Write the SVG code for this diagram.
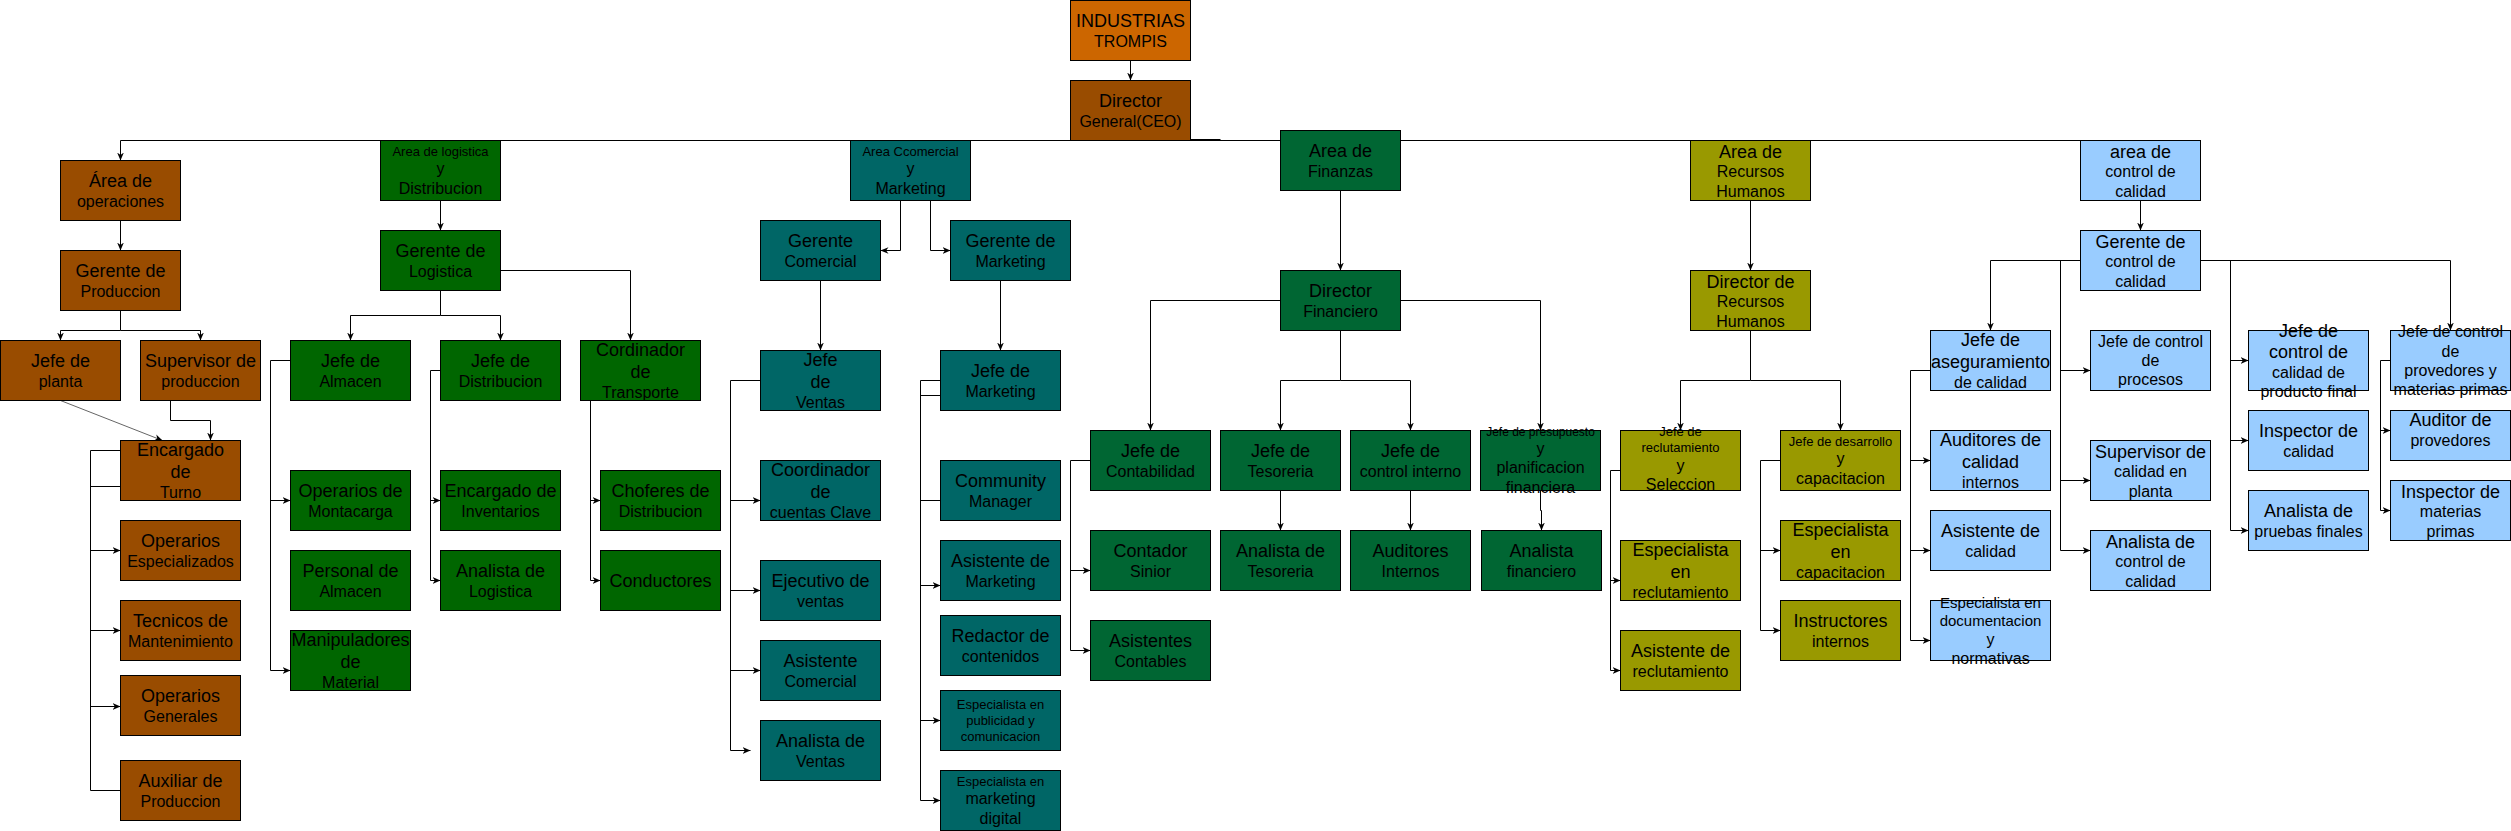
<svg xmlns="http://www.w3.org/2000/svg" width="2511" height="831" viewBox="0 0 2511 831">
<style>
rect{stroke:#000;stroke-width:1}
.or{fill:#CC6600}.br{fill:#994C00}.lg{fill:#006600}.cm{fill:#006666}.fn{fill:#006633}.hr{fill:#999900}.qc{fill:#99CCFF}
text{font-family:"Liberation Sans",Arial,Helvetica,sans-serif;text-anchor:middle;fill:#000}
.a{font-size:18px}.b{font-size:16px}.c{font-size:13px}.d{font-size:12px}.e{font-size:15px}
#connectors path{fill:none;stroke:#000;stroke-width:1}
#connectors path.m{marker-end:url(#arr)}
</style>
<defs>
<marker id="arr" viewBox="0 0 10 10" refX="10" refY="5" markerWidth="8" markerHeight="8" markerUnits="userSpaceOnUse" orient="auto"><path d="M0,0.8 L10,5 L0,9.2 L3,5 Z" fill="#000"/></marker>
</defs>
<rect x="-1" y="-1" width="2513" height="833" style="fill:#fff;stroke:none"/>
<g transform="translate(0.5,0.5)">
<g id="connectors">
<path class="m" d="M1130,60 V80"/>
<path d="M1130,140 H2080"/>
<path class="m" d="M1130,140 H120 V160"/>
<path d="M1170,139.5 H1220" style="stroke-width:2"/>
<path class="m" d="M120,220 V250"/>
<path class="m" d="M120,310 V330 H60 V340"/>
<path class="m" d="M120,330 H200 V340"/>
<path class="m" d="M60,400 L162,440" style="stroke:#666"/>
<path class="m" d="M170,400 V420 H210 V440"/>
<path d="M120,450 H90 V790 H120"/>
<path d="M90,486 H120"/>
<path class="m" d="M90,550 H120"/>
<path class="m" d="M90,630 H120"/>
<path class="m" d="M90,706 H120"/>
<path class="m" d="M440,200 V230"/>
<path class="m" d="M440,290 V315 H350 V340"/>
<path class="m" d="M440,315 H500 V340"/>
<path class="m" d="M500,270 H630 V340"/>
<path class="m" d="M290,360 H270 V670 H290"/>
<path class="m" d="M270,500 H290"/>
<path class="m" d="M440,370 H430 V580 H440"/>
<path class="m" d="M430,500 H440"/>
<path class="m" d="M590,400 V580 H600"/>
<path class="m" d="M590,500 H600"/>
<path class="m" d="M900,200 V250 H880"/>
<path class="m" d="M930,200 V250 H950"/>
<path class="m" d="M820,280 V350"/>
<path class="m" d="M760,380 H730 V750 H750"/>
<path class="m" d="M730,500 H760"/>
<path class="m" d="M730,590 H760"/>
<path class="m" d="M730,670 H760"/>
<path class="m" d="M1000,280 V350"/>
<path class="m" d="M940,380 H920 V800 H940"/>
<path d="M920,395 H940"/>
<path d="M920,500 H940"/>
<path class="m" d="M920,585 H940"/>
<path class="m" d="M920,720 H940"/>
<path class="m" d="M1340,190 V270"/>
<path class="m" d="M1280,300 H1150 V430"/>
<path class="m" d="M1340,330 V380 H1280 V430"/>
<path class="m" d="M1340,380 H1410 V430"/>
<path class="m" d="M1400,300 H1540 V430"/>
<path class="m" d="M1090,460 H1070 V650 H1090"/>
<path class="m" d="M1070,570 H1090"/>
<path class="m" d="M1280,490 V530"/>
<path class="m" d="M1410,490 V530"/>
<path class="m" d="M1540,490 V510 H1541 V530"/>
<path class="m" d="M1750,200 V270"/>
<path class="m" d="M1750,330 V380 H1680 V430"/>
<path class="m" d="M1750,380 H1840 V430"/>
<path class="m" d="M1620,470 H1610 V670 H1620"/>
<path class="m" d="M1610,580 H1620"/>
<path class="m" d="M1780,460 H1760 V630 H1780"/>
<path class="m" d="M1760,550 H1780"/>
<path class="m" d="M2140,200 V230"/>
<path class="m" d="M2080,260 H1990 V330"/>
<path class="m" d="M2060,260 V550 H2090"/>
<path class="m" d="M2060,370 H2090"/>
<path class="m" d="M2060,480 H2090"/>
<path class="m" d="M2200,260 H2450 V330"/>
<path class="m" d="M2230,260 V530 H2248"/>
<path class="m" d="M2230,360 H2248"/>
<path class="m" d="M2230,440 H2248"/>
<path class="m" d="M1930,370 H1910 V640 H1930"/>
<path class="m" d="M1910,460 H1930"/>
<path class="m" d="M1910,550 H1930"/>
<path class="m" d="M2390,360 H2380 V510 H2390"/>
<path class="m" d="M2380,430 H2390"/>
</g>

<g id="n-industrias"><rect class="or" x="1070" y="0" width="120" height="60"/><text><tspan class="a" x="1130" y="26.7">INDUSTRIAS</tspan><tspan class="b" x="1130" y="46.4">TROMPIS</tspan></text></g>
<g id="n-ceo"><rect class="br" x="1070" y="80" width="120" height="60"/><text><tspan class="a" x="1130" y="106.7">Director</tspan><tspan class="b" x="1130" y="126.4">General(CEO)</tspan></text></g>

<g id="n-area-operaciones"><rect class="br" x="60" y="160" width="120" height="60"/><text><tspan class="a" x="120" y="186.7">Área de</tspan><tspan class="b" x="120" y="206.4">operaciones</tspan></text></g>
<g id="n-gerente-produccion"><rect class="br" x="60" y="250" width="120" height="60"/><text><tspan class="a" x="120" y="276.7">Gerente de</tspan><tspan class="b" x="120" y="296.4">Produccion</tspan></text></g>
<g id="n-jefe-planta"><rect class="br" x="0" y="340" width="120" height="60"/><text><tspan class="a" x="60" y="366.7">Jefe de</tspan><tspan class="b" x="60" y="386.4">planta</tspan></text></g>
<g id="n-supervisor-produccion"><rect class="br" x="140" y="340" width="120" height="60"/><text><tspan class="a" x="200" y="366.7">Supervisor de</tspan><tspan class="b" x="200" y="386.4">produccion</tspan></text></g>
<g id="n-encargado-turno"><rect class="br" x="120" y="440" width="120" height="60"/><text><tspan class="a" x="180" y="455.9">Encargado</tspan><tspan class="a" x="180" y="477.5">de</tspan><tspan class="b" x="180" y="497.2">Turno</tspan></text></g>
<g id="n-operarios-especializados"><rect class="br" x="120" y="520" width="120" height="60"/><text><tspan class="a" x="180" y="546.7">Operarios</tspan><tspan class="b" x="180" y="566.4">Especializados</tspan></text></g>
<g id="n-tecnicos"><rect class="br" x="120" y="600" width="120" height="60"/><text><tspan class="a" x="180" y="626.7">Tecnicos de</tspan><tspan class="b" x="180" y="646.4">Mantenimiento</tspan></text></g>
<g id="n-operarios-generales"><rect class="br" x="120" y="675" width="120" height="60"/><text><tspan class="a" x="180" y="701.7">Operarios</tspan><tspan class="b" x="180" y="721.4">Generales</tspan></text></g>
<g id="n-auxiliar"><rect class="br" x="120" y="760" width="120" height="60"/><text><tspan class="a" x="180" y="786.7">Auxiliar de</tspan><tspan class="b" x="180" y="806.4">Produccion</tspan></text></g>

<g id="n-area-logistica"><rect class="lg" x="380" y="140" width="120" height="60"/><text><tspan class="c" x="440" y="155.3">Area de logistica</tspan><tspan class="b" x="440" y="173.8">y</tspan><tspan class="b" x="440" y="193">Distribucion</tspan></text></g>
<g id="n-gerente-logistica"><rect class="lg" x="380" y="230" width="120" height="60"/><text><tspan class="a" x="440" y="256.7">Gerente de</tspan><tspan class="b" x="440" y="276.4">Logistica</tspan></text></g>
<g id="n-jefe-almacen"><rect class="lg" x="290" y="340" width="120" height="60"/><text><tspan class="a" x="350" y="366.7">Jefe de</tspan><tspan class="b" x="350" y="386.4">Almacen</tspan></text></g>
<g id="n-jefe-distribucion"><rect class="lg" x="440" y="340" width="120" height="60"/><text><tspan class="a" x="500" y="366.7">Jefe de</tspan><tspan class="b" x="500" y="386.4">Distribucion</tspan></text></g>
<g id="n-cordinador-transporte"><rect class="lg" x="580" y="340" width="120" height="60"/><text><tspan class="a" x="640" y="355.9">Cordinador</tspan><tspan class="a" x="640" y="377.5">de</tspan><tspan class="b" x="640" y="397.2">Transporte</tspan></text></g>
<g id="n-montacarga"><rect class="lg" x="290" y="470" width="120" height="60"/><text><tspan class="a" x="350" y="496.7">Operarios de</tspan><tspan class="b" x="350" y="516.4">Montacarga</tspan></text></g>
<g id="n-personal-almacen"><rect class="lg" x="290" y="550" width="120" height="60"/><text><tspan class="a" x="350" y="576.7">Personal de</tspan><tspan class="b" x="350" y="596.4">Almacen</tspan></text></g>
<g id="n-manipuladores"><rect class="lg" x="290" y="630" width="120" height="60"/><text><tspan class="a" x="350" y="645.9">Manipuladores</tspan><tspan class="a" x="350" y="667.5">de</tspan><tspan class="b" x="350" y="687.2">Material</tspan></text></g>
<g id="n-encargado-inventarios"><rect class="lg" x="440" y="470" width="120" height="60"/><text><tspan class="a" x="500" y="496.7">Encargado de</tspan><tspan class="b" x="500" y="516.4">Inventarios</tspan></text></g>
<g id="n-analista-logistica"><rect class="lg" x="440" y="550" width="120" height="60"/><text><tspan class="a" x="500" y="576.7">Analista de</tspan><tspan class="b" x="500" y="596.4">Logistica</tspan></text></g>
<g id="n-choferes"><rect class="lg" x="600" y="470" width="120" height="60"/><text><tspan class="a" x="660" y="496.7">Choferes de</tspan><tspan class="b" x="660" y="516.4">Distribucion</tspan></text></g>
<g id="n-conductores"><rect class="lg" x="600" y="550" width="120" height="60"/><text><tspan class="a" x="660" y="586.3">Conductores</tspan></text></g>

<g id="n-area-comercial"><rect class="cm" x="850" y="140" width="120" height="60"/><text><tspan class="c" x="910" y="155.3">Area Ccomercial</tspan><tspan class="b" x="910" y="173.8">y</tspan><tspan class="b" x="910" y="193">Marketing</tspan></text></g>
<g id="n-gerente-comercial"><rect class="cm" x="760" y="220" width="120" height="60"/><text><tspan class="a" x="820" y="246.7">Gerente</tspan><tspan class="b" x="820" y="266.4">Comercial</tspan></text></g>
<g id="n-gerente-marketing"><rect class="cm" x="950" y="220" width="120" height="60"/><text><tspan class="a" x="1010" y="246.7">Gerente de</tspan><tspan class="b" x="1010" y="266.4">Marketing</tspan></text></g>
<g id="n-jefe-ventas"><rect class="cm" x="760" y="350" width="120" height="60"/><text><tspan class="a" x="820" y="365.9">Jefe</tspan><tspan class="a" x="820" y="387.5">de</tspan><tspan class="b" x="820" y="407.2">Ventas</tspan></text></g>
<g id="n-coordinador-cuentas"><rect class="cm" x="760" y="460" width="120" height="60"/><text><tspan class="a" x="820" y="475.9">Coordinador</tspan><tspan class="a" x="820" y="497.5">de</tspan><tspan class="b" x="820" y="517.2">cuentas Clave</tspan></text></g>
<g id="n-ejecutivo-ventas"><rect class="cm" x="760" y="560" width="120" height="60"/><text><tspan class="a" x="820" y="586.7">Ejecutivo de</tspan><tspan class="b" x="820" y="606.4">ventas</tspan></text></g>
<g id="n-asistente-comercial"><rect class="cm" x="760" y="640" width="120" height="60"/><text><tspan class="a" x="820" y="666.7">Asistente</tspan><tspan class="b" x="820" y="686.4">Comercial</tspan></text></g>
<g id="n-analista-ventas"><rect class="cm" x="760" y="720" width="120" height="60"/><text><tspan class="a" x="820" y="746.7">Analista de</tspan><tspan class="b" x="820" y="766.4">Ventas</tspan></text></g>
<g id="n-jefe-marketing"><rect class="cm" x="940" y="350" width="120" height="60"/><text><tspan class="a" x="1000" y="376.7">Jefe de</tspan><tspan class="b" x="1000" y="396.4">Marketing</tspan></text></g>
<g id="n-community"><rect class="cm" x="940" y="460" width="120" height="60"/><text><tspan class="a" x="1000" y="486.7">Community</tspan><tspan class="b" x="1000" y="506.4">Manager</tspan></text></g>
<g id="n-asistente-marketing"><rect class="cm" x="940" y="540" width="120" height="60"/><text><tspan class="a" x="1000" y="566.7">Asistente de</tspan><tspan class="b" x="1000" y="586.4">Marketing</tspan></text></g>
<g id="n-redactor"><rect class="cm" x="940" y="615" width="120" height="60"/><text><tspan class="a" x="1000" y="641.7">Redactor de</tspan><tspan class="b" x="1000" y="661.4">contenidos</tspan></text></g>
<g id="n-especialista-publicidad"><rect class="cm" x="940" y="690" width="120" height="60"/><text><tspan class="c" x="1000" y="708.9">Especialista en</tspan><tspan class="c" x="1000" y="724.5">publicidad y</tspan><tspan class="c" x="1000" y="740.1">comunicacion</tspan></text></g>
<g id="n-especialista-digital"><rect class="cm" x="940" y="770" width="120" height="60"/><text><tspan class="c" x="1000" y="785.3">Especialista en</tspan><tspan class="b" x="1000" y="803.8">marketing</tspan><tspan class="b" x="1000" y="823">digital</tspan></text></g>

<g id="n-area-finanzas"><rect class="fn" x="1280" y="130" width="120" height="60"/><text><tspan class="a" x="1340" y="156.7">Area de</tspan><tspan class="b" x="1340" y="176.4">Finanzas</tspan></text></g>
<g id="n-director-financiero"><rect class="fn" x="1280" y="270" width="120" height="60"/><text><tspan class="a" x="1340" y="296.7">Director</tspan><tspan class="b" x="1340" y="316.4">Financiero</tspan></text></g>
<g id="n-jefe-contabilidad"><rect class="fn" x="1090" y="430" width="120" height="60"/><text><tspan class="a" x="1150" y="456.7">Jefe de</tspan><tspan class="b" x="1150" y="476.4">Contabilidad</tspan></text></g>
<g id="n-jefe-tesoreria"><rect class="fn" x="1220" y="430" width="120" height="60"/><text><tspan class="a" x="1280" y="456.7">Jefe de</tspan><tspan class="b" x="1280" y="476.4">Tesoreria</tspan></text></g>
<g id="n-jefe-control-interno"><rect class="fn" x="1350" y="430" width="120" height="60"/><text><tspan class="a" x="1410" y="456.7">Jefe de</tspan><tspan class="b" x="1410" y="476.4">control interno</tspan></text></g>
<g id="n-jefe-presupuesto"><rect class="fn" x="1480" y="430" width="120" height="60"/><text><tspan class="d" x="1540" y="435.4">Jefe de presupuesto</tspan><tspan class="b" x="1540" y="453.6">y</tspan><tspan class="b" x="1540" y="472.8">planificacion</tspan><tspan class="b" x="1540" y="492">financiera</tspan></text></g>
<g id="n-contador-sinior"><rect class="fn" x="1090" y="530" width="120" height="60"/><text><tspan class="a" x="1150" y="556.7">Contador</tspan><tspan class="b" x="1150" y="576.4">Sinior</tspan></text></g>
<g id="n-asistentes-contables"><rect class="fn" x="1090" y="620" width="120" height="60"/><text><tspan class="a" x="1150" y="646.7">Asistentes</tspan><tspan class="b" x="1150" y="666.4">Contables</tspan></text></g>
<g id="n-analista-tesoreria"><rect class="fn" x="1220" y="530" width="120" height="60"/><text><tspan class="a" x="1280" y="556.7">Analista de</tspan><tspan class="b" x="1280" y="576.4">Tesoreria</tspan></text></g>
<g id="n-auditores-internos"><rect class="fn" x="1350" y="530" width="120" height="60"/><text><tspan class="a" x="1410" y="556.7">Auditores</tspan><tspan class="b" x="1410" y="576.4">Internos</tspan></text></g>
<g id="n-analista-financiero"><rect class="fn" x="1481" y="530" width="120" height="60"/><text><tspan class="a" x="1541" y="556.7">Analista</tspan><tspan class="b" x="1541" y="576.4">financiero</tspan></text></g>

<g id="n-area-rrhh"><rect class="hr" x="1690" y="140" width="120" height="60"/><text><tspan class="a" x="1750" y="157.1">Area de</tspan><tspan class="b" x="1750" y="176.8">Recursos</tspan><tspan class="b" x="1750" y="196">Humanos</tspan></text></g>
<g id="n-director-rrhh"><rect class="hr" x="1690" y="270" width="120" height="60"/><text><tspan class="a" x="1750" y="287.1">Director de</tspan><tspan class="b" x="1750" y="306.8">Recursos</tspan><tspan class="b" x="1750" y="326">Humanos</tspan></text></g>
<g id="n-jefe-reclutamiento"><rect class="hr" x="1620" y="430" width="120" height="60"/><text><tspan class="c" x="1680" y="435">Jefe de</tspan><tspan class="c" x="1680" y="451">reclutamiento</tspan><tspan class="b" x="1680" y="470.5">y</tspan><tspan class="b" x="1680" y="489">Seleccion</tspan></text></g>
<g id="n-jefe-desarrollo"><rect class="hr" x="1780" y="430" width="120" height="60"/><text><tspan class="c" x="1840" y="445.3">Jefe de desarrollo</tspan><tspan class="b" x="1840" y="463.8">y</tspan><tspan class="b" x="1840" y="483">capacitacion</tspan></text></g>
<g id="n-especialista-reclutamiento"><rect class="hr" x="1620" y="540" width="120" height="60"/><text><tspan class="a" x="1680" y="555.9">Especialista</tspan><tspan class="a" x="1680" y="577.5">en</tspan><tspan class="b" x="1680" y="597.2">reclutamiento</tspan></text></g>
<g id="n-asistente-reclutamiento"><rect class="hr" x="1620" y="630" width="120" height="60"/><text><tspan class="a" x="1680" y="656.7">Asistente de</tspan><tspan class="b" x="1680" y="676.4">reclutamiento</tspan></text></g>
<g id="n-especialista-capacitacion"><rect class="hr" x="1780" y="520" width="120" height="60"/><text><tspan class="a" x="1840" y="535.9">Especialista</tspan><tspan class="a" x="1840" y="557.5">en</tspan><tspan class="b" x="1840" y="577.2">capacitacion</tspan></text></g>
<g id="n-instructores"><rect class="hr" x="1780" y="600" width="120" height="60"/><text><tspan class="a" x="1840" y="626.7">Instructores</tspan><tspan class="b" x="1840" y="646.4">internos</tspan></text></g>

<g id="n-area-calidad"><rect class="qc" x="2080" y="140" width="120" height="60"/><text><tspan class="a" x="2140" y="157.1">area de</tspan><tspan class="b" x="2140" y="176.8">control de</tspan><tspan class="b" x="2140" y="196">calidad</tspan></text></g>
<g id="n-gerente-calidad"><rect class="qc" x="2080" y="230" width="120" height="60"/><text><tspan class="a" x="2140" y="247.1">Gerente de</tspan><tspan class="b" x="2140" y="266.8">control de</tspan><tspan class="b" x="2140" y="286">calidad</tspan></text></g>
<g id="n-jefe-aseguramiento"><rect class="qc" x="1930" y="330" width="120" height="60"/><text><tspan class="a" x="1990" y="345.9">Jefe de</tspan><tspan class="a" x="1990" y="367.5">aseguramiento</tspan><tspan class="b" x="1990" y="387.2">de calidad</tspan></text></g>
<g id="n-auditores-calidad"><rect class="qc" x="1930" y="430" width="120" height="60"/><text><tspan class="a" x="1990" y="445.9">Auditores de</tspan><tspan class="a" x="1990" y="467.5">calidad</tspan><tspan class="b" x="1990" y="487.2">internos</tspan></text></g>
<g id="n-asistente-calidad"><rect class="qc" x="1930" y="510" width="120" height="60"/><text><tspan class="a" x="1990" y="536.7">Asistente de</tspan><tspan class="b" x="1990" y="556.4">calidad</tspan></text></g>
<g id="n-especialista-documentacion"><rect class="qc" x="1930" y="600" width="120" height="60"/><text><tspan class="e" x="1990" y="607">Especialista en</tspan><tspan class="e" x="1990" y="625">documentacion</tspan><tspan class="b" x="1990" y="644">y</tspan><tspan class="b" x="1990" y="663.2">normativas</tspan></text></g>
<g id="n-jefe-procesos"><rect class="qc" x="2090" y="330" width="120" height="60"/><text><tspan class="b" x="2150" y="346.4">Jefe de control</tspan><tspan class="b" x="2150" y="365.6">de</tspan><tspan class="b" x="2150" y="384.8">procesos</tspan></text></g>
<g id="n-supervisor-calidad"><rect class="qc" x="2090" y="440" width="120" height="60"/><text><tspan class="a" x="2150" y="457.1">Supervisor de</tspan><tspan class="b" x="2150" y="476.8">calidad en</tspan><tspan class="b" x="2150" y="496">planta</tspan></text></g>
<g id="n-analista-control"><rect class="qc" x="2090" y="530" width="120" height="60"/><text><tspan class="a" x="2150" y="547.1">Analista de</tspan><tspan class="b" x="2150" y="566.8">control de</tspan><tspan class="b" x="2150" y="586">calidad</tspan></text></g>
<g id="n-jefe-producto-final"><rect class="qc" x="2248" y="330" width="120" height="60"/><text><tspan class="a" x="2308" y="336.3">Jefe de</tspan><tspan class="a" x="2308" y="357.9">control de</tspan><tspan class="b" x="2308" y="377.6">calidad de</tspan><tspan class="b" x="2308" y="396.8">producto final</tspan></text></g>
<g id="n-inspector-calidad"><rect class="qc" x="2248" y="410" width="120" height="60"/><text><tspan class="a" x="2308" y="436.7">Inspector de</tspan><tspan class="b" x="2308" y="456.4">calidad</tspan></text></g>
<g id="n-analista-pruebas"><rect class="qc" x="2248" y="490" width="120" height="60"/><text><tspan class="a" x="2308" y="516.7">Analista de</tspan><tspan class="b" x="2308" y="536.4">pruebas finales</tspan></text></g>
<g id="n-jefe-provedores"><rect class="qc" x="2390" y="330" width="120" height="60"/><text><tspan class="b" x="2450" y="336.8">Jefe de control</tspan><tspan class="b" x="2450" y="356">de</tspan><tspan class="b" x="2450" y="375.2">provedores y</tspan><tspan class="b" x="2450" y="394.4">materias primas</tspan></text></g>
<g id="n-auditor-provedores"><rect class="qc" x="2390" y="410" width="120" height="50"/><text><tspan class="a" x="2450" y="425.7">Auditor de</tspan><tspan class="b" x="2450" y="445.4">provedores</tspan></text></g>
<g id="n-inspector-materias"><rect class="qc" x="2390" y="480" width="120" height="60"/><text><tspan class="a" x="2450" y="497.1">Inspector de</tspan><tspan class="b" x="2450" y="516.8">materias</tspan><tspan class="b" x="2450" y="536">primas</tspan></text></g>
</g>
</svg>
